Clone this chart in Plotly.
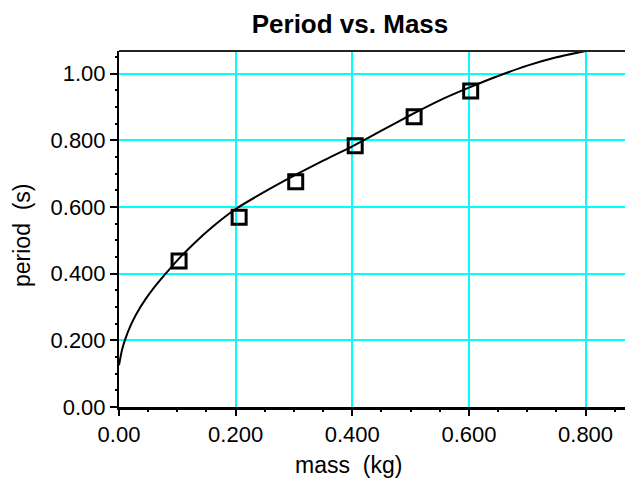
import plotly.graph_objects as go

# measured data points (mass in kg, period in s)
mass = [0.103, 0.206, 0.303, 0.405, 0.506, 0.603]
period = [0.438, 0.569, 0.676, 0.784, 0.871, 0.948]

# fit curve
fit_mass = [0.000, 0.005, 0.010, 0.020, 0.030, 0.045, 0.060, 0.080, 0.100, 0.130,
            0.160, 0.200, 0.250, 0.300, 0.350, 0.400, 0.450, 0.500, 0.550, 0.600,
            0.650, 0.700, 0.750, 0.800]
fit_period = [0.125, 0.170, 0.200, 0.245, 0.280, 0.322, 0.358, 0.400, 0.440, 0.493,
              0.540, 0.594, 0.646, 0.694, 0.739, 0.782, 0.829, 0.876, 0.920, 0.958,
              0.993, 1.024, 1.049, 1.068]

x_tickvals = [0.0, 0.2, 0.4, 0.6, 0.8]
x_ticktext = ["0.00", "0.200", "0.400", "0.600", "0.800"]
y_tickvals = [0.0, 0.2, 0.4, 0.6, 0.8, 1.0]
y_ticktext = ["0.00", "0.200", "0.400", "0.600", "0.800", "1.00"]
mid_x_ticks = [0.1, 0.3, 0.5, 0.7]
mid_y_ticks = [0.1, 0.3, 0.5, 0.7, 0.9]

FONT = "Liberation Sans, Arial, sans-serif"
XR = [0, 0.8676]
YR = [0, 1.068]

fig = go.Figure()
fig.add_trace(go.Scatter(x=fit_mass, y=fit_period, mode="lines",
                         line=dict(color="black", width=2, shape="spline", smoothing=0.6),
                         showlegend=False, hoverinfo="skip"))
fig.add_trace(go.Scatter(x=mass, y=period, mode="markers",
                         marker=dict(symbol="square-open", size=14, color="black",
                                     line=dict(color="black", width=3)),
                         showlegend=False))

fig.update_layout(
    width=625, height=482,
    margin=dict(l=119, r=0, t=51, b=75),
    paper_bgcolor="white", plot_bgcolor="white",
    font=dict(family=FONT, color="black", size=22),
    title=dict(text="<b>Period vs. Mass</b>", x=350/625, xanchor="center",
               y=1 - 24/482, yanchor="middle", xref="container", yref="container",
               font=dict(family=FONT, size=26, color="black")),
    xaxis=dict(range=XR, tickvals=x_tickvals, ticktext=x_ticktext,
               showgrid=True, gridcolor="#00FFFF", gridwidth=2, zeroline=False,
               showline=True, linecolor="black", linewidth=3,
               ticks="outside", ticklen=6, tickwidth=2, tickcolor="black",
               tickfont=dict(family=FONT, size=22, color="black"),
               minor=dict(dtick=0.05, tick0=0, ticks="outside", ticklen=2, tickwidth=2,
                          tickcolor="black", showgrid=False)),
    yaxis=dict(range=YR, tickvals=y_tickvals, ticktext=y_ticktext,
               showgrid=True, gridcolor="#00FFFF", gridwidth=2, zeroline=False,
               showline=True, linecolor="black", linewidth=2,
               ticks="outside", ticklen=7, tickwidth=2, tickcolor="black",
               tickfont=dict(family=FONT, size=22, color="black"),
               minor=dict(dtick=0.05, tick0=0, ticks="outside", ticklen=2, tickwidth=2,
                          tickcolor="black", showgrid=False)),
    xaxis2=dict(range=XR, overlaying="x", anchor="y", side="bottom",
                tickvals=mid_x_ticks, ticks="outside", ticklen=4, tickwidth=2,
                tickcolor="black", showticklabels=False, showgrid=False,
                zeroline=False, showline=False),
    yaxis2=dict(range=YR, overlaying="y", anchor="x", side="left",
                tickvals=mid_y_ticks, ticks="outside", ticklen=4, tickwidth=2,
                tickcolor="black", showticklabels=False, showgrid=False,
                zeroline=False, showline=False),
    shapes=[dict(type="line", xref="paper", yref="paper", x0=0, x1=1, y0=1, y1=1,
                 line=dict(color="#222222", width=2))],
    annotations=[
        dict(text="mass\u00a0\u00a0(kg)", xref="paper", yref="paper",
             x=(348 - 119) / (625 - 119), y=0, yshift=-58, xanchor="center",
             yanchor="middle", showarrow=False,
             font=dict(family=FONT, size=23, color="black")),
        dict(text="period\u00a0\u00a0(s)", xref="paper", yref="paper",
             x=0, xshift=-97, y=(407 - 235) / 356, xanchor="center",
             yanchor="middle", textangle=-90, showarrow=False,
             font=dict(family=FONT, size=23, color="black")),
    ],
)

fig.write_html("out.html", config={"displayModeBar": False},
               post_script="document.body.style.margin='0';document.body.style.overflow='hidden';")
